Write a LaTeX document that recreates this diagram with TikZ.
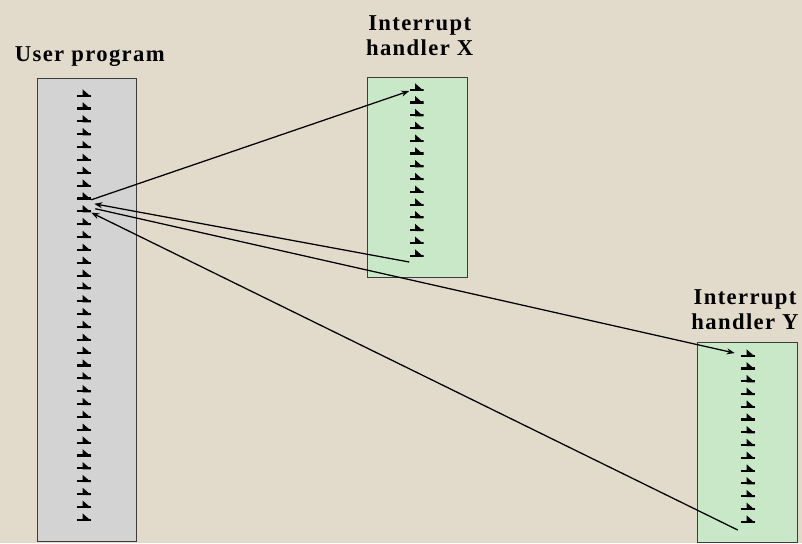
\documentclass[tikz,border=0pt]{standalone}
\usepackage{fontspec}
\usepackage{tikz}
\usetikzlibrary{positioning, arrows.meta}

\newfontfamily\headfont[LetterSpace=6]{Liberation Serif}

\definecolor{parchment}{RGB}{226,219,204}
\definecolor{progfill}{RGB}{211,211,211}
\definecolor{handlerfill}{RGB}{200,232,200}
\definecolor{boxline}{RGB}{60,60,60}

\begin{document}
\begin{tikzpicture}[x=0.75pt, y=-0.75pt,
    prog/.style = {draw = boxline, line width = 0.75pt, fill = progfill, inner sep = 0pt},
    handler/.style = {draw = boxline, line width = 0.75pt, fill = handlerfill, inner sep = 0pt,
        minimum width = 75pt, minimum height = 150pt},
    title/.style = {font = \headfont\bfseries\fontsize{17}{18.75}\selectfont, align = center},
    instr/.style = {inner sep = 0pt, minimum width = 10.5pt, minimum height = 5.5pt, anchor = south,
        path picture = {
            \fill (path picture bounding box.south west) rectangle ([yshift=1.6pt]path picture bounding box.south east);
            \fill ([xshift=-1pt]path picture bounding box.south) -- (path picture bounding box.south east)
                -- ([xshift=-1pt]path picture bounding box.north) -- cycle;
        }},
    flow/.style = {-{Stealth[length=6pt, width=4.5pt]}, line width = 0.95pt}]

    \fill [parchment] (0, 0) rectangle (802, 543);
    \useasboundingbox (0, 0) rectangle (802, 543);

    % the three blocks of code
    \node [prog, minimum width = 74.25pt, minimum height = 347.25pt] (user) at (86.5, 309.5) {};
    \node [handler] (hxbox) at (417, 177) {};
    \node [handler] (hybox) at (747, 442) {};

    \node [title, above = 4.5pt of user, xshift = 2.5pt] (userlbl) {User program};
    \node [title, above = 12pt of hxbox, xshift = 2pt] (hxlbl) {Interrupt\\handler X};
    \node [title, above = 5pt of hybox, xshift = -1.5pt] (hylbl) {Interrupt\\handler Y};

    % one mark per instruction
    \foreach \i in {1,...,34}
        \node [instr] (up\i) at (84, {97 + (\i - 1) * 12.85}) {};
    \foreach \i in {1,...,14}
        \node [instr] (hx\i) at (416.5, {91 + (\i - 1) * 12.77}) {};
    \foreach \i in {1,...,14}
        \node [instr] (hy\i) at (748, {357 + (\i - 1) * 12.77}) {};

    % jumps to the handlers and back
    \draw [flow] (up9.south east) -- (hx1.south west);
    \draw [flow] ([yshift=-3.75pt]hx14.south west) -- ([shift={(2.25pt,-3pt)}]up9.south east);
    \draw [flow] ([xshift=3pt]up10.east) -- ([xshift=-4.5pt]hy1.west);
    \draw [flow] ([shift={(-2.25pt,-5.25pt)}]hy14.south west) -- (up10.south east);
\end{tikzpicture}
\end{document}
